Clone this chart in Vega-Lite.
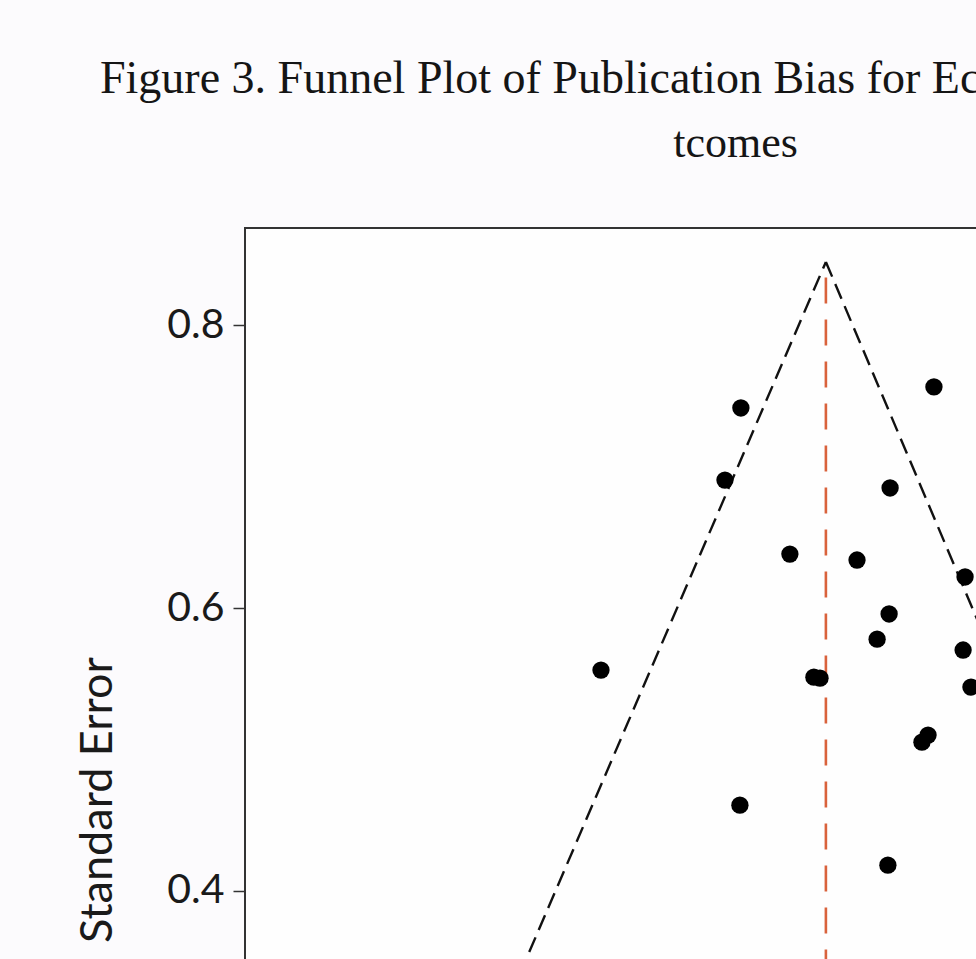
{
  "$schema": "https://vega.github.io/schema/vega-lite/v6.json",
  "autosize": {"type": "none"},
  "padding": {"left": 245, "top": 228, "right": 0, "bottom": 0},
  "width": 980,
  "height": 1143,
  "background": "#fcfbfd",
  "title": {
    "text": "Figure 3. Funnel Plot of Publication Bias for Economic Ou",
    "anchor": "start",
    "frame": "group",
    "dx": -145,
    "font": "Liberation Serif",
    "fontSize": 46,
    "fontWeight": "normal",
    "color": "#151515",
    "offset": 18
  },
  "datasets": {
    "studies": [
      {"effect": 0.024, "se": 0.7416},
      {"effect": 0.812, "se": 0.7565},
      {"effect": -0.041, "se": 0.6906},
      {"effect": 0.633, "se": 0.685},
      {"effect": 0.224, "se": 0.6382},
      {"effect": 0.498, "se": 0.634},
      {"effect": 0.939, "se": 0.622},
      {"effect": 0.629, "se": 0.5958},
      {"effect": 0.58, "se": 0.578},
      {"effect": 0.931, "se": 0.5703},
      {"effect": -0.547, "se": 0.5561},
      {"effect": 0.322, "se": 0.5511},
      {"effect": 0.347, "se": 0.5504},
      {"effect": 0.963, "se": 0.5441},
      {"effect": 0.763, "se": 0.5051},
      {"effect": 0.788, "se": 0.5101},
      {"effect": 0.02, "se": 0.4605},
      {"effect": 0.624, "se": 0.418}
    ],
    "funnel": [
      {"side": "left", "effect": 0.371, "se": 0.845},
      {"side": "left", "effect": -1.575, "se": 0.06},
      {"side": "right", "effect": 0.371, "se": 0.845},
      {"side": "right", "effect": 2.286, "se": 0.06}
    ],
    "pooled": [
      {"effect": 0.371, "top": 0.834, "bottom": 0.06}
    ]
  },
  "config": {
    "view": {"stroke": "#333333", "strokeWidth": 2, "fill": "#fefefe"}
  },
  "encoding": {
    "x": {
      "field": "effect",
      "type": "quantitative",
      "scale": {"domain": [-2, 2], "nice": false, "zero": false},
      "axis": {
        "orient": "top",
        "title": "tcomes",
        "titleFont": "Liberation Serif",
        "titleFontSize": 44,
        "titleFontWeight": "normal",
        "titleColor": "#151515",
        "titlePadding": 63,
        "labels": false,
        "ticks": false,
        "domain": false,
        "grid": false
      }
    },
    "y": {
      "field": "se",
      "type": "quantitative",
      "scale": {"domain": [0.06, 0.869], "nice": false, "zero": false},
      "axis": {
        "values": [0.4, 0.6, 0.8],
        "format": ".1f",
        "labelFont": "Lato",
        "labelFontSize": 41,
        "labelColor": "#1a1a1a",
        "labelPadding": 9,
        "tickSize": 12,
        "tickWidth": 1.5,
        "tickColor": "#333333",
        "domain": false,
        "grid": false,
        "title": "Standard Error",
        "titleFont": "Lato",
        "titleFontSize": 45,
        "titleFontWeight": "normal",
        "titleColor": "#1a1a1a",
        "titlePadding": 46
      }
    }
  },
  "layer": [
    {
      "data": {"name": "funnel"},
      "mark": {"type": "line", "color": "#111111", "strokeWidth": 2.4, "strokeDash": [16, 8], "clip": true},
      "encoding": {"detail": {"field": "side"}}
    },
    {
      "data": {"name": "pooled"},
      "mark": {"type": "rule", "color": "#d9623c", "strokeWidth": 2.6, "strokeDash": [26, 16], "clip": true},
      "encoding": {
        "y": {"field": "top", "type": "quantitative"},
        "y2": {"field": "bottom"}
      }
    },
    {
      "data": {"name": "studies"},
      "mark": {"type": "circle", "color": "#000000", "opacity": 1, "size": 300},
      "encoding": {}
    }
  ]
}
